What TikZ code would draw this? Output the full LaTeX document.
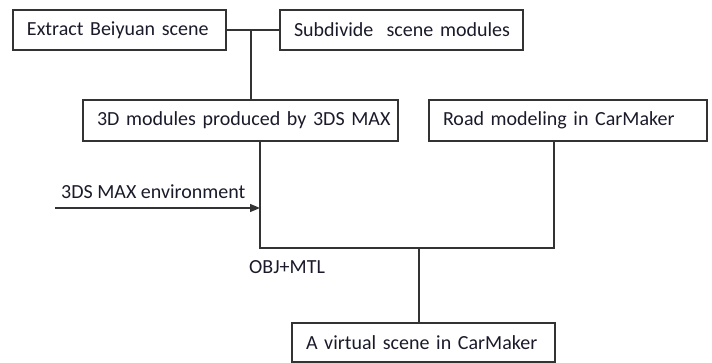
\documentclass[tikz,border=0pt]{standalone}
\usepackage{fontspec}
\setmainfont{Carlito}
\usetikzlibrary{arrows.meta}
\definecolor{linec}{HTML}{333333}
\definecolor{textc}{HTML}{1A1A2A}
\begin{document}
\begin{tikzpicture}[x=1pt,y=1pt,
  box/.style={draw=linec, line width=1.4pt, inner ysep=0pt, inner xsep=14pt,
    text=textc, align=left, font=\fontsize{20}{22}\selectfont},
  lbl/.style={inner sep=0pt, text=textc, font=\fontsize{20}{22}\selectfont},
  conn/.style={draw=linec, line width=1.4pt}]
\useasboundingbox (0,0) rectangle (712,-363);
\node[box, text width=185pt, minimum height=40pt] (b1) at (119.5,-30) {\mbox{Extract Beiyuan scene}};
\node[box, text width=215pt, minimum height=40pt] (b2) at (401.5,-30) {\mbox{Subdivide\ \ scene modules}};
\node[box, text width=287pt, minimum height=41pt] (b3) at (240.5,-120.5) {\mbox{3D modules produced by 3DS MAX}};
\node[box, text width=250pt, minimum height=41pt] (b4) at (568,-120.5) {\mbox{Road modeling in CarMaker}};
\node[box, text width=235pt, minimum height=39pt] (b5) at (423.5,-342.5) {\mbox{A virtual scene in CarMaker}};
\node[lbl, anchor=west] (env) at (61,-192) {3DS MAX environment};
\node[lbl, anchor=west] (obj) at (249,-267) {OBJ+MTL};
\coordinate (j) at (251,-30);
\coordinate (m) at (260,-248);
\coordinate (n) at (554,-248);
\coordinate (o) at (419,-248);
\coordinate (a0) at (55,-208);
\draw[conn] (b1.east) -- (b2.west);
\draw[conn] (j) -- (j |- b3.north);
\draw[conn] (b3.south -| m) -- (m) -- (n) -- (n |- b4.south);
\draw[conn] (o) -- (o |- b5.north);
\draw[conn, -{Triangle[length=10pt,width=8pt]}] (a0) -- (a0 -| m);
\end{tikzpicture}
\end{document}
